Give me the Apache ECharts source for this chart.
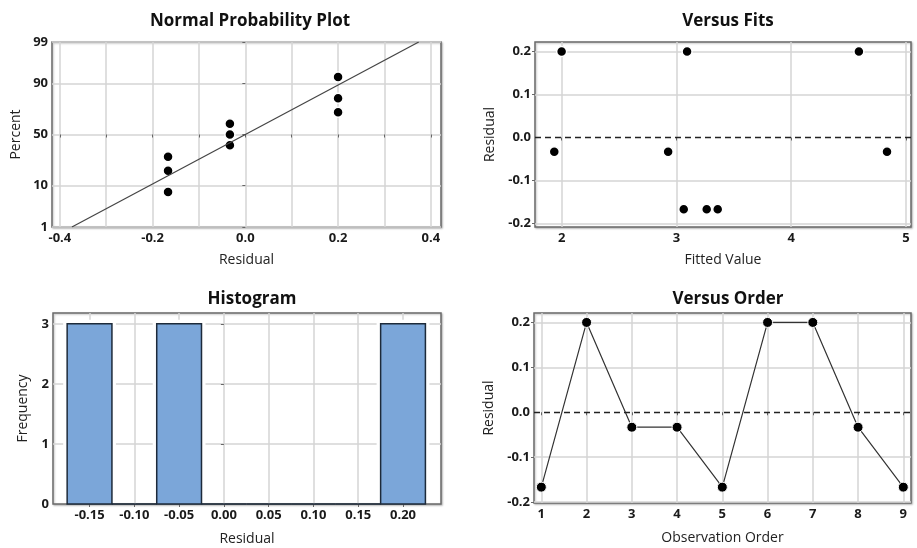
<!DOCTYPE html>
<html><head><meta charset="utf-8">
<script src="https://cdn.jsdelivr.net/npm/echarts@6/dist/echarts.min.js"></script>
<style>html,body{margin:0;padding:0;background:#fff}#c{width:917px;height:548px}</style>
</head><body><div id="c"></div>
<script>
// ---- Data ----
// Normal probability plot
const probResiduals = [-0.1667, -0.1667, -0.1667, -0.0333, -0.0333, -0.0333, 0.2, 0.2, 0.2];
const probPercents = [7.4, 18.1, 28.7, 39.4, 50, 60.6, 71.3, 81.9, 92.6];
const fitLineResiduals = [-0.374, 0.374];
const fitLinePercents = [1, 99];
const probXTicks = [-0.4, -0.3, -0.2, -0.1, 0, 0.1, 0.2, 0.3, 0.4];
const probXLabels = [-0.4, -0.2, 0, 0.2, 0.4];
const probYLabels = [1, 10, 50, 90, 99];
// Versus fits
const fittedValues = [1.936, 2.0, 2.928, 3.064, 3.093, 3.264, 3.36, 4.59, 4.835];
const fitResiduals = [-0.0333, 0.2, -0.0333, -0.1667, 0.2, -0.1667, -0.1667, 0.2, -0.0333];
const fitXTicks = [2, 3, 4, 5];
const residTicks = [-0.2, -0.1, 0.1, 0.2];
const residLabels = [-0.2, -0.1, 0, 0.1, 0.2];
// Histogram
const binCenters = [-0.15, -0.10, -0.05, 0.00, 0.05, 0.10, 0.15, 0.20];
const binCounts = [3, 0, 3, 0, 0, 0, 0, 3];
const binWidth = 0.05;
const freqTicks = [0, 1, 2, 3];
// Versus order
const observationOrder = [1, 2, 3, 4, 5, 6, 7, 8, 9];
const orderResiduals = [-0.1667, 0.2, -0.0333, -0.0333, -0.1667, 0.2, 0.2, -0.0333, -0.1667];

// inverse normal CDF (probability scale transform)
function normInv(p) {
  const a=[-3.969683028665376e+01,2.209460984245205e+02,-2.759285104469687e+02,1.383577518672690e+02,-3.066479806614716e+01,2.506628277459239e+00];
  const b=[-5.447609879822406e+01,1.615858368580409e+02,-1.556989798598866e+02,6.680131188771972e+01,-1.328068155288572e+01];
  const c=[-7.784894002430293e-03,-3.223964580411365e-01,-2.400758277161838e+00,-2.549732539343734e+00,4.374664141464968e+00,2.938163982698783e+00];
  const d=[7.784695709041462e-03,3.224671290700398e-01,2.445134137142996e+00,3.754408661907416e+00];
  const pl=0.02425, ph=1-pl; let q,r;
  if (p<pl){q=Math.sqrt(-2*Math.log(p));return (((((c[0]*q+c[1])*q+c[2])*q+c[3])*q+c[4])*q+c[5])/((((d[0]*q+d[1])*q+d[2])*q+d[3])*q+1);}
  if (p<=ph){q=p-0.5;r=q*q;return (((((a[0]*r+a[1])*r+a[2])*r+a[3])*r+a[4])*r+a[5])*q/(((((b[0]*r+b[1])*r+b[2])*r+b[3])*r+b[4])*r+1);}
  q=Math.sqrt(-2*Math.log(1-p));return -(((((c[0]*q+c[1])*q+c[2])*q+c[3])*q+c[4])*q+c[5])/((((d[0]*q+d[1])*q+d[2])*q+d[3])*q+1);
}
const pz = v => normInv(v / 100);

const FONT = "'Open Sans', 'Noto Sans', sans-serif";
const gridLine = { show: true, lineStyle: { color: '#d4d4d4', width: 1.5 } };
const labelStyle = { color: '#1a1a1a', fontSize: 13, fontWeight: 'bold', fontFamily: FONT };
const nameStyle = { color: '#222', fontSize: 14, fontWeight: 'normal', fontFamily: FONT };
const tickStyle = { show: true, length: 3, lineStyle: { color: '#666' } };

function xAxis(gi, min, max, ticks, labels, fmt, name, nameGap) {
  return {
    type: 'value', gridIndex: gi, min, max, name, nameLocation: 'middle', nameGap,
    nameTextStyle: nameStyle,
    axisLine: { show: false }, splitLine: gridLine,
    axisTick: Object.assign({ customValues: ticks }, tickStyle),
    axisLabel: Object.assign({ customValues: labels, formatter: fmt, margin: 5 }, labelStyle)
  };
}
function yAxis(gi, min, max, ticks, labels, fmt, name, nameGap) {
  return {
    type: 'value', gridIndex: gi, min, max, name, nameLocation: 'middle', nameGap,
    nameTextStyle: nameStyle,
    axisLine: { show: false }, splitLine: gridLine,
    axisTick: Object.assign({ customValues: ticks }, tickStyle),
    axisLabel: Object.assign({ customValues: labels, formatter: fmt, margin: 4 }, labelStyle)
  };
}
const gridBase = { show: true, borderColor: '#6a6a6a', borderWidth: 1.5, backgroundColor: '#fff',
  shadowColor: 'rgba(0,0,0,0.25)', shadowBlur: 2, shadowOffsetX: 1, shadowOffsetY: 1 };

const markerStyle = { color: '#000', opacity: 1, borderColor: '#fff', borderWidth: 1.5 };
const zeroLine = { silent: true, symbol: 'none', label: { show: false },
  lineStyle: { color: '#222', type: [6, 4], width: 1.3 }, data: [{ yAxis: 0 }] };

const fmt1 = v => (Math.abs(v) < 1e-9 ? 0 : v).toFixed(1);
const fmt2 = v => (Math.abs(v) < 1e-9 ? 0 : v).toFixed(2);
const pctFmt = v => { let best = probYLabels[0]; probYLabels.forEach(p => { if (Math.abs(pz(p) - v) < Math.abs(pz(best) - v)) best = p; }); return String(best); };

const chart = echarts.init(document.getElementById('c'), null, { renderer: 'canvas' });
chart.setOption({
  animation: false,
  backgroundColor: '#fff',
  title: [
    { text: 'Normal Probability Plot', left: 245, top: 8, textAlign: 'center' },
    { text: 'Versus Fits', left: 723, top: 8, textAlign: 'center' },
    { text: 'Histogram', left: 247, top: 286, textAlign: 'center' },
    { text: 'Versus Order', left: 723, top: 286, textAlign: 'center' }
  ].map(t => Object.assign(t, { textStyle: { fontFamily: FONT, fontSize: 17, fontWeight: 'bold', color: '#111' } })),
  grid: [
    Object.assign({ left: 52, top: 42, width: 389, height: 185 }, gridBase),
    Object.assign({ left: 535, top: 42, width: 376, height: 185 }, gridBase),
    Object.assign({ left: 53, top: 313, width: 388, height: 191 }, gridBase),
    Object.assign({ left: 534, top: 313, width: 377, height: 190 }, gridBase)
  ],
  xAxis: [
    xAxis(0, -0.417, 0.422, probXTicks, probXLabels, fmt1, 'Residual', 26),
    xAxis(1, 1.768, 5.044, fitXTicks, fitXTicks, v => String(Math.round(v)), 'Fitted Value', 26),
    xAxis(2, -0.1908, 0.2424, binCenters, binCenters, fmt2, 'Residual', 28),
    xAxis(3, 0.838, 9.17, observationOrder, observationOrder, v => String(Math.round(v)), 'Observation Order', 28)
  ],
  yAxis: [
    yAxis(0, pz(1), pz(99), probYLabels.map(pz), probYLabels.map(pz), pctFmt, 'Percent', 29),
    yAxis(1, -0.208, 0.222, residTicks, residLabels, fmt1, 'Residual', 38),
    yAxis(2, 0, 3.18, [1, 2, 3], freqTicks, v => String(Math.round(v)), 'Frequency', 23),
    yAxis(3, -0.202, 0.221, residTicks, residLabels, fmt1, 'Residual', 38)
  ],
  series: [
    { type: 'line', xAxisIndex: 0, yAxisIndex: 0, symbol: 'none', silent: true,
      lineStyle: { color: '#444', width: 1.2 },
      data: fitLineResiduals.map((r, i) => [r, pz(fitLinePercents[i])]) },
    { type: 'scatter', xAxisIndex: 0, yAxisIndex: 0, symbolSize: 10, itemStyle: markerStyle,
      data: probResiduals.map((r, i) => [r, pz(probPercents[i])]) },
    { type: 'scatter', xAxisIndex: 1, yAxisIndex: 1, symbolSize: 10, itemStyle: markerStyle,
      data: fittedValues.map((f, i) => [f, fitResiduals[i]]) },
    { type: 'line', xAxisIndex: 1, yAxisIndex: 1, data: [], markLine: zeroLine },
    { type: 'custom', xAxisIndex: 2, yAxisIndex: 2,
      data: binCenters.map((c, i) => [c, binCounts[i]]),
      renderItem: function (params, api) {
        const c = api.value(0), n = api.value(1);
        if (!n) {
          const a = api.coord([c - binWidth / 2, 0]), b = api.coord([c + binWidth / 2, 0]);
          return { type: 'line', shape: { x1: a[0], y1: a[1], x2: b[0], y2: b[1] }, style: { stroke: '#1d2a3a', lineWidth: 1.5 } };
        }
        const p0 = api.coord([c - binWidth / 2, n]);
        const p1 = api.coord([c + binWidth / 2, 0]);
        const w = p1[0] - p0[0], h = p1[1] - p0[1];
        return { type: 'group', children: [
          { type: 'rect', shape: { x: p0[0] - 4, y: p0[1] - 4, width: w + 8, height: h + 3 }, style: { fill: '#fff' } },
          { type: 'rect', shape: { x: p0[0], y: p0[1], width: w, height: h }, style: { fill: '#7ba6d9', stroke: '#1d2a3a', lineWidth: 1.5 } }
        ] };
      } },
    { type: 'line', xAxisIndex: 3, yAxisIndex: 3, symbol: 'circle', symbolSize: 10,
      lineStyle: { color: '#333', width: 1.2 }, itemStyle: { color: '#000', opacity: 1, borderColor: '#fff', borderWidth: 1 },
      data: observationOrder.map((o, i) => [o, orderResiduals[i]]), markLine: zeroLine }
  ]
});
</script></body></html>
